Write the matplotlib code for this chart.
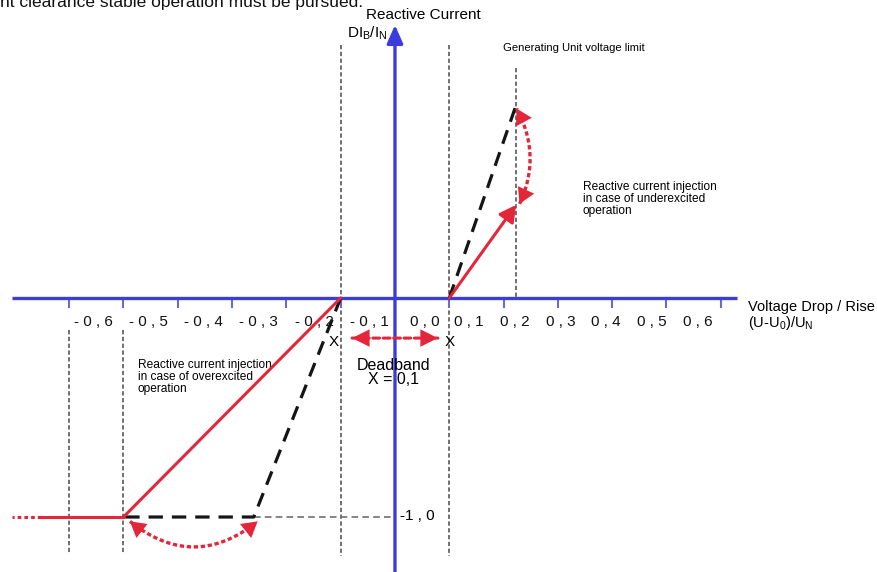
import numpy as np
import matplotlib
matplotlib.use("Agg")
import matplotlib.pyplot as plt
from matplotlib.patches import FancyArrowPatch

plt.rcParams['font.family'] = ['Liberation Sans', 'DejaVu Sans']

# ---- data -------------------------------------------------------------
volt_ticks = [-0.6, -0.5, -0.4, -0.3, -0.2, -0.1, 0.1, 0.2, 0.3, 0.4, 0.5, 0.6]
label_values = [-0.6, -0.5, -0.4, -0.3, -0.2, -0.1, 0.0, 0.1, 0.2, 0.3, 0.4, 0.5, 0.6]
tick_labels = ['- 0 , 6', '- 0 , 5', '- 0 , 4', '- 0 , 3', '- 0 , 2', '- 0 , 1',
               '0 , 0', '0 , 1', '0 , 2', '0 , 3', '0 , 4', '0 , 5', '0 , 6']

deadband = (-0.1, 0.1)
current_limit = -1.0
current_limit_label = '-1 , 0'
voltage_limit = 0.223

# overexcited side (voltage drop)
over_red_x = [-0.1, -0.5]
over_red_y = [0.0, -1.0]
over_dash_x = [-0.1, -0.26, -0.5]
over_dash_y = [0.0, -1.0, -1.0]

# underexcited side (voltage rise)
under_red_x = [0.1, 0.223]
under_red_y = [0.0, 0.425]
under_dash_x = [0.1, 0.223]
under_dash_y = [0.0, 0.88]

# ---- styling ----------------------------------------------------------
BLUE = '#3c3cdc'
RED = '#e4263a'
GREY = '#707070'
BLACK = '#151515'

fig = plt.figure(figsize=(8.77, 5.72), dpi=100)
ax = fig.add_axes([0, 0, 1, 1])
ax.set_xlim(-0.7274, 0.8877)
ax.set_ylim(-1.2511, 1.3607)
ax.axis('off')

to_px = ax.transData.transform
to_data = ax.transData.inverted().transform

# clipped sentence from surrounding document text
ax.text(-0.7274, 1.3288, 'nt clearance stable operation must be pursued.',
        fontsize=12.5, ha='left', va='baseline', color='#111111')

# ---- helper lines (grey dashed) --------------------------------------
gdash = dict(color=GREY, lw=1.4, ls=(0, (2.2, 1.3)), zorder=1)
for xv in deadband:
    ax.plot([xv, xv], [1.155, -1.18], **gdash)
for xv in (-0.6, -0.5):
    ax.plot([xv, xv], [-0.146, -1.164], **gdash)
ax.plot([voltage_limit, voltage_limit], [1.05, 0.0], **gdash)
ax.plot([over_dash_x[1], 0.0], [current_limit, current_limit],
        color=GREY, lw=1.2, ls=(0, (4, 2.5)), zorder=1)

# ---- axes -------------------------------------------------------------
ax.plot([-0.705, 0.63], [0, 0], color=BLUE, lw=2.4, zorder=3,
        solid_capstyle='butt')
for xv in volt_ticks:
    ax.plot([xv, xv], [0, -0.042], color='#6b6bc8', lw=1.5, zorder=2)
ax.annotate('', xy=(0, 1.2466), xytext=(0, -1.2511),
            arrowprops=dict(arrowstyle='-|>,head_length=0.5,head_width=0.22',
                            mutation_scale=22, color=BLUE, lw=2.4,
                            shrinkA=0, shrinkB=0), zorder=3)

# tick labels along the voltage axis
for v, lab in zip(label_values, tick_labels):
    if v <= 0:
        lx = -0.556 + (v + 0.6) * 1.017
    else:
        lx = 0.136 + (v - 0.1) * 0.843
    ax.text(lx, -0.108, lab, fontsize=11, ha='center', va='center', color='#111111')

# ---- characteristic lines -------------------------------------------
ax.plot(over_red_x, over_red_y, color=RED, lw=2.2, zorder=5, solid_capstyle='round')
ax.plot([over_red_x[1], -0.652], [current_limit, current_limit], color=RED, lw=2.2, zorder=5)
ax.plot([-0.652, -0.705], [current_limit, current_limit], color=RED, lw=2.2,
        ls=(0, (1.2, 1.0)), zorder=5)
ax.plot(over_dash_x, over_dash_y, color=BLACK, lw=2.3, ls=(0, (4.5, 2.8)), zorder=4)

ax.plot(under_dash_x, under_dash_y, color=BLACK, lw=2.3, ls=(0, (4.5, 2.8)), zorder=4)
ax.annotate('', xy=(under_red_x[1], under_red_y[1]), xytext=(under_red_x[0], under_red_y[0]),
            arrowprops=dict(arrowstyle='-|>,head_length=0.55,head_width=0.3',
                            mutation_scale=18, color=RED, lw=2.2,
                            shrinkA=0, shrinkB=0), zorder=6)


def arrow_head(tail_px, tip_px):
    """Solid filled arrow head pointing from tail to tip (pixel coords)."""
    ax.add_patch(FancyArrowPatch(to_data(tail_px), to_data(tip_px),
                                 arrowstyle='-|>,head_length=0.65,head_width=0.38',
                                 mutation_scale=17, facecolor=RED, edgecolor='none',
                                 lw=0, shrinkA=0, shrinkB=0, zorder=7))


def curved_double_arrow(p0, p2, rad):
    """Dotted quadratic arc between two points with heads at both ends."""
    a, b = to_px(p0), to_px(p2)
    d = b - a
    c = (a + b) / 2 + rad * np.array([d[1], -d[0]])
    t = np.linspace(0, 1, 80)[:, None]
    curve = (1 - t) ** 2 * a + 2 * (1 - t) * t * c + t ** 2 * b
    pts = to_data(curve)
    ax.plot(pts[:, 0], pts[:, 1], color=RED, lw=2.4, ls=(0, (1.3, 0.8)),
            zorder=6, solid_capstyle='butt')
    for end in (a, b):
        u = (end - c) / np.hypot(*(end - c))
        arrow_head(end - 12 * u, end)


# swing between dashed and red characteristic (overexcited)
curved_double_arrow((-0.488, -1.02), (-0.253, -1.02), 0.40)
# swing between red and dashed characteristic (underexcited)
curved_double_arrow((0.2295, 0.43), (0.224, 0.865), 0.25)

# deadband arrow
ax.add_patch(FancyArrowPatch((-0.079, -0.183), (0.079, -0.183), arrowstyle='-',
                             color=RED, lw=2.2, ls=(0, (2.2, 1.2)),
                             shrinkA=0, shrinkB=0, zorder=6))
ax.add_patch(FancyArrowPatch((-0.079, -0.183), (0.079, -0.183),
                             arrowstyle='<|-|>,head_length=0.7,head_width=0.35',
                             mutation_scale=18, facecolor=RED, edgecolor='none', lw=0,
                             shrinkA=0, shrinkB=0, zorder=6))

# ---- labels -----------------------------------------------------------
ax.text(0.0516, 1.292, 'Reactive Current', fontsize=11, ha='center', va='center')
ax.text(-0.013, 1.21, r'DI$_\mathregular{B}$/I$_\mathregular{N}$', fontsize=11,
        ha='right', va='center')
ax.text(0.199, 1.1416, 'Generating Unit voltage limit', fontsize=8.1,
        ha='left', va='center')
ax.text(0.3462, 0.534, 'Reactive current injection\nin case of underexcited\noperation',
        fontsize=8.6, ha='left', va='top', linespacing=0.98)
ax.text(-0.4733, -0.2785, 'Reactive current injection\nin case of overexcited\noperation',
        fontsize=8.6, ha='left', va='top', linespacing=0.98)
ax.text(0.650, -0.041, 'Voltage Drop / Rise', fontsize=10.5, ha='left', va='center')
ax.text(0.650, -0.114, r'(U-U$_\mathregular{0}$)/U$_\mathregular{N}$', fontsize=10.5,
        ha='left', va='center')
ax.text(-0.1123, -0.2009, 'X', fontsize=11, ha='center', va='center')
ax.text(deadband[1], -0.2009, 'X', fontsize=11, ha='center', va='center')
ax.text(-0.002, -0.306, 'Deadband', fontsize=11.5, ha='center', va='center')
ax.text(-0.002, -0.374, 'X = 0,1', fontsize=11.5, ha='center', va='center', zorder=8)
ax.text(0.009, current_limit + 0.005, current_limit_label, fontsize=11, ha='left', va='center')

fig.savefig('out.png', dpi=100)
